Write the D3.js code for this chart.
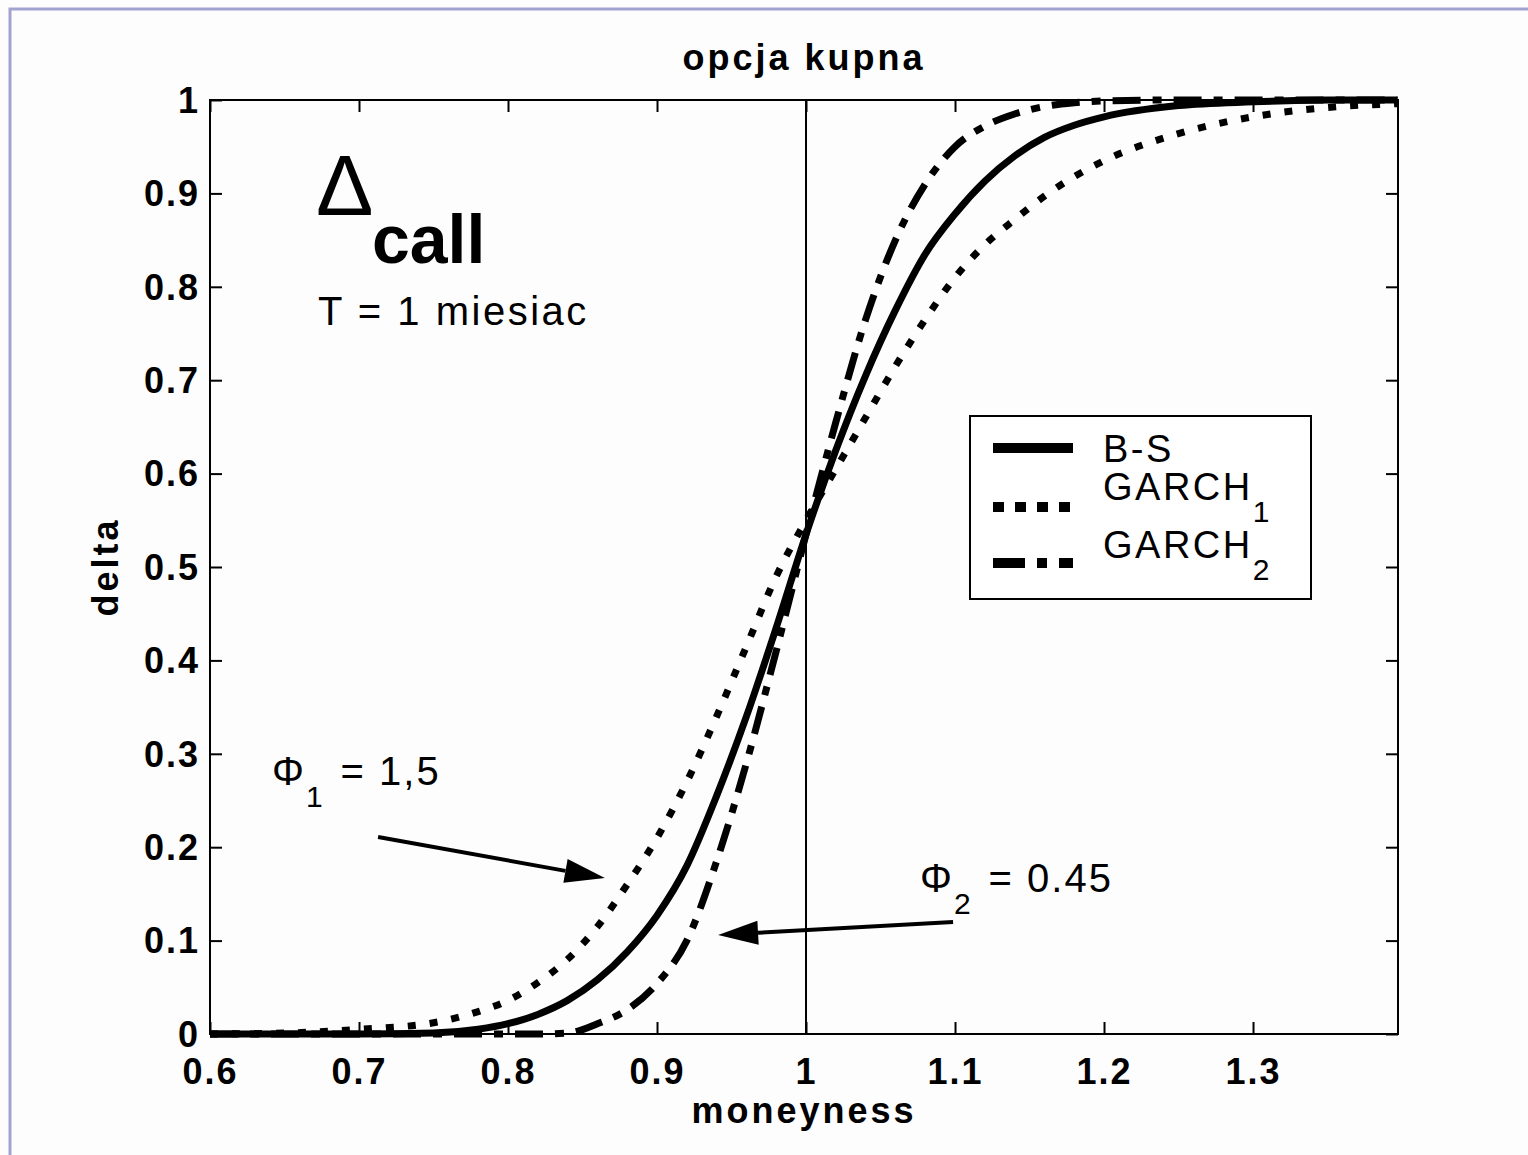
<!DOCTYPE html>
<html lang="pl">
<head>
<meta charset="UTF-8">
<title>opcja kupna</title>
<script src="https://d3js.org/d3.v7.min.js"></script>
<style>
  body { margin: 0; background: #fdfdfd; }
  svg { display: block; }
  text { font-family: "Liberation Sans", Arial, sans-serif; fill: #000; }
</style>
</head>
<body>
<div id="chart"></div>
<script>
// moneyness grid and delta values
const moneyness = [0.6, 0.65, 0.7, 0.75, 0.78, 0.8, 0.82, 0.84, 0.86, 0.88, 0.9, 0.92, 0.94, 0.96, 0.98,
                   1.0, 1.02, 1.04, 1.06, 1.08, 1.1, 1.12, 1.14, 1.16, 1.18, 1.2, 1.25, 1.3, 1.35, 1.397];
const deltaBS     = [0, 0, 0, 0.001, 0.005, 0.011, 0.021, 0.036, 0.058, 0.088, 0.127, 0.18, 0.255, 0.34, 0.435,
                     0.535, 0.625, 0.705, 0.775, 0.835, 0.878, 0.913, 0.94, 0.96, 0.973, 0.982, 0.994, 0.998, 1, 1];
const deltaGarch1 = [0, 0.001, 0.005, 0.012, 0.024, 0.036, 0.055, 0.08, 0.115, 0.16, 0.21, 0.27, 0.34, 0.415, 0.49,
                     0.55, 0.605, 0.66, 0.715, 0.765, 0.81, 0.845, 0.872, 0.897, 0.918, 0.935, 0.964, 0.982, 0.992, 0.996];
const deltaGarch2 = [0, 0, 0, 0, 0, 0, 0, 0.001, 0.011, 0.026, 0.054, 0.1, 0.185, 0.29, 0.41,
                     0.535, 0.655, 0.765, 0.85, 0.91, 0.95, 0.972, 0.985, 0.993, 0.997, 0.999, 1, 1, 1, 1];

const xTicks = [0.6, 0.7, 0.8, 0.9, 1, 1.1, 1.2, 1.3];
const yTicks = [0, 0.1, 0.2, 0.3, 0.4, 0.5, 0.6, 0.7, 0.8, 0.9, 1];

// arrows: [from, to] in data coordinates
const arrowPhi1 = [[0.7128, 0.211], [0.865, 0.167]];
const arrowPhi2 = [[1.0987, 0.12], [0.941, 0.106]];

const W = 1528, H = 1155;
const margin = {top: 100, left: 210, right: 130, bottom: 121};
const width = W - margin.left - margin.right,
      height = H - margin.top - margin.bottom;

const svg = d3.select("#chart").append("svg")
    .attr("width", W).attr("height", H);

// lavender frame of the figure (only top and left edges are inside the picture)
svg.append("rect")
    .attr("x", 10).attr("y", 9).attr("width", W + 20).attr("height", H + 20)
    .attr("fill", "none").attr("stroke", "#a3a3d1").attr("stroke-width", 3);

const g = svg.append("g").attr("transform", `translate(${margin.left},${margin.top})`);

const x = d3.scaleLinear().domain([0.6, 1.3973]).range([0, width]);
const y = d3.scaleLinear().domain([0, 1]).range([height, 0]);
const fmt = d => String(+d.toFixed(1));

// axes, ticks pointing inward
g.append("g").attr("transform", `translate(0,${height})`)
    .call(d3.axisBottom(x).tickValues(xTicks).tickSize(-12).tickPadding(24).tickFormat(fmt));
g.append("g").call(d3.axisTop(x).tickValues(xTicks).tickSize(-12).tickFormat(""));
const yAxis = g.append("g")
    .call(d3.axisLeft(y).tickValues(yTicks).tickSize(-12).tickPadding(10).tickFormat(fmt));
g.append("g").attr("transform", `translate(${width},0)`)
    .call(d3.axisRight(y).tickValues(yTicks).tickSize(-12).tickFormat(""));

g.selectAll(".domain").remove();
g.selectAll(".tick line").attr("stroke", "#000").attr("stroke-width", 2);
g.selectAll(".tick text")
    .attr("font-family", "'Liberation Sans', Arial, sans-serif")
    .attr("font-size", 36).attr("font-weight", "bold")
    .attr("letter-spacing", 2);
yAxis.selectAll(".tick text").attr("dy", "0.34em");

g.append("rect").attr("width", width).attr("height", height)
    .attr("fill", "none").attr("stroke", "#000").attr("stroke-width", 2);

// vertical line at moneyness = 1
g.append("line")
    .attr("x1", x(1)).attr("x2", x(1)).attr("y1", y(0)).attr("y2", y(1))
    .attr("stroke", "#000").attr("stroke-width", 2);

// curves
const series = [
  {name: "B-S",    values: deltaBS,     dash: null},
  {name: "GARCH",  sub: "1", values: deltaGarch1, dash: "8 14"},
  {name: "GARCH",  sub: "2", values: deltaGarch2, dash: "28 12 9 12"}
];

const line = d3.line()
    .x(d => x(d[0])).y(d => y(d[1]))
    .curve(d3.curveMonotoneX);

g.selectAll(".curve").data(series).enter().append("path")
    .attr("class", "curve")
    .attr("d", s => line(moneyness.map((m, i) => [m, s.values[i]])))
    .attr("fill", "none").attr("stroke", "#000").attr("stroke-width", 7)
    .attr("stroke-dasharray", s => s.dash);

// arrows
function arrow(a) {
  const x0 = x(a[0][0]), y0 = y(a[0][1]), x1 = x(a[1][0]), y1 = y(a[1][1]);
  const ang = Math.atan2(y1 - y0, x1 - x0);
  const len = 40, hw = 12;
  const bx = x1 - len * Math.cos(ang), by = y1 - len * Math.sin(ang);
  g.append("line").attr("x1", x0).attr("y1", y0).attr("x2", bx).attr("y2", by)
      .attr("stroke", "#000").attr("stroke-width", 4);
  g.append("path")
      .attr("d", `M${x1},${y1}L${bx - hw * Math.sin(ang)},${by + hw * Math.cos(ang)}` +
                 `L${bx + hw * Math.sin(ang)},${by - hw * Math.cos(ang)}Z`)
      .attr("fill", "#000");
}
arrow(arrowPhi1);
arrow(arrowPhi2);

// annotations
g.append("text").attr("x", x(0.6711)).attr("y", y(0.877))
    .attr("font-family", "'Liberation Serif', 'Times New Roman', serif")
    .attr("font-size", 86).text("Δ");
g.append("text").attr("x", x(0.7087)).attr("y", y(0.8255))
    .attr("font-size", 68).attr("font-weight", "bold").text("call");
g.append("text").attr("x", x(0.6725)).attr("y", y(0.759))
    .attr("font-size", 40).attr("letter-spacing", 2.5).text("T = 1 miesiac");

function phiLabel(px, py, sub, rest) {
  const t = g.append("text").attr("x", px).attr("y", py).attr("font-size", 40).attr("letter-spacing", 2);
  t.append("tspan").text("Φ");
  t.append("tspan").attr("font-size", 30).attr("dy", 22).text(sub);
  t.append("tspan").attr("dy", -22).attr("dx", 16).text(rest);
}
phiLabel(x(0.6416), y(0.2666), "1", "= 1,5");
phiLabel(x(1.0765), y(0.152), "2", "= 0.45");

// legend
const lg = g.append("g").attr("transform", "translate(760,316)");
lg.append("rect").attr("width", 341).attr("height", 183)
    .attr("fill", "#fff").attr("stroke", "#000").attr("stroke-width", 2);
const rowY = [32, 91, 147], textY = [46, 84, 142];
series.forEach((s, i) => {
  lg.append("line").attr("x1", 23).attr("x2", 103).attr("y1", rowY[i]).attr("y2", rowY[i])
      .attr("stroke", "#000").attr("stroke-width", 10)
      .attr("stroke-dasharray", s.dash ? (i === 1 ? "11 11" : "32 12 10 12") : null);
  const t = lg.append("text").attr("x", 133).attr("y", textY[i])
      .attr("font-size", 38).attr("letter-spacing", 2.5);
  t.append("tspan").text(s.name);
  if (s.sub) t.append("tspan").attr("font-size", 30).attr("dy", 22).text(s.sub);
});

// title and axis labels
svg.append("text").attr("x", margin.left + width / 2).attr("y", 70)
    .attr("text-anchor", "middle").attr("font-size", 36).attr("font-weight", "bold")
    .attr("letter-spacing", 3).text("opcja kupna");
svg.append("text").attr("x", margin.left + width / 2).attr("y", 1123)
    .attr("text-anchor", "middle").attr("font-size", 36).attr("font-weight", "bold")
    .attr("letter-spacing", 3).text("moneyness");
svg.append("text")
    .attr("transform", `translate(118,${margin.top + height / 2}) rotate(-90)`)
    .attr("text-anchor", "middle").attr("font-size", 36).attr("font-weight", "bold")
    .attr("letter-spacing", 3).text("delta");
</script>
</body>
</html>
